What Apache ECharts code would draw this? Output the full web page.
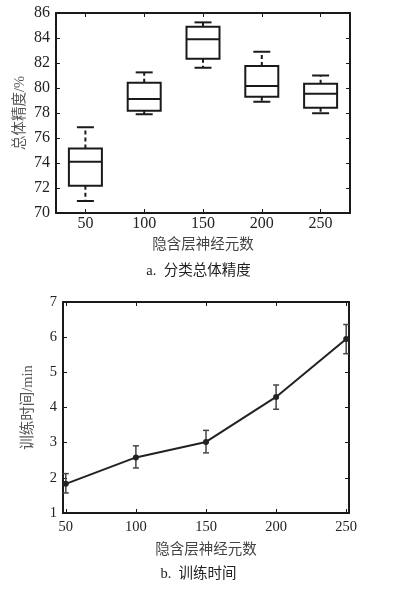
<!DOCTYPE html>
<html>
<head>
<meta charset="utf-8">
<script src="https://cdn.jsdelivr.net/npm/echarts@6/dist/echarts.min.js"></script>
<style>
  html, body { margin: 0; padding: 0; background: #fff; }
  #chart { width: 397px; height: 589px; }
</style>
</head>
<body>
<div id="chart"></div>
<script>
// a. 分类总体精度 (boxplot)
const neuronCats = ['50', '100', '150', '200', '250']
const accMin = [70.96, 77.9, 81.62, 78.9, 77.98]
const accQ1 = [72.18, 78.19, 82.35, 79.3, 78.42]
const accMedian = [74.1, 79.12, 83.9, 80.16, 79.55]
const accQ3 = [75.17, 80.43, 84.9, 81.76, 80.35]
const accMax = [76.86, 81.25, 85.25, 82.9, 81.0]

// b. 训练时间 (line + error bars)
const neurons = [50, 100, 150, 200, 250]
const timeMean = [1.83, 2.58, 3.02, 4.3, 5.95]
const timeLow = [1.57, 2.28, 2.71, 3.95, 5.53]
const timeHigh = [2.12, 2.91, 3.35, 4.64, 6.36]
const timeTicks = [50, 100, 150, 200, 250]

const serif = 'Liberation Serif, DejaVu Serif, serif'
const cjk = 'Liberation Serif, Noto Sans CJK SC, sans-serif'
const ink = '#1a1a1a'

const chart = echarts.init(document.getElementById('chart'))

const boxData = neuronCats.map((c, i) => [i, accMin[i], accQ1[i], accMedian[i], accQ3[i], accMax[i]])
const errData = neurons.map((x, i) => [x, timeLow[i], timeHigh[i]])

const renderBox = (params, api) => {
  const i = api.value(0)
  const pMin = api.coord([i, api.value(1)])
  const pQ1 = api.coord([i, api.value(2)])
  const pMed = api.coord([i, api.value(3)])
  const pQ3 = api.coord([i, api.value(4)])
  const pMax = api.coord([i, api.value(5)])
  const cx = pMed[0]
  const halfBox = 16.5
  const halfCap = 8.5
  const stroke = { stroke: ink, lineWidth: 2, fill: null }
  const dashed = { stroke: ink, lineWidth: 2, lineDash: [4, 3] }
  return {
    type: 'group',
    children: [
      { type: 'line', shape: { x1: cx, y1: pQ3[1], x2: cx, y2: pMax[1] }, style: dashed },
      { type: 'line', shape: { x1: cx, y1: pQ1[1], x2: cx, y2: pMin[1] }, style: dashed },
      { type: 'line', shape: { x1: cx - halfCap, y1: pMax[1], x2: cx + halfCap, y2: pMax[1] }, style: stroke },
      { type: 'line', shape: { x1: cx - halfCap, y1: pMin[1], x2: cx + halfCap, y2: pMin[1] }, style: stroke },
      { type: 'rect', shape: { x: cx - halfBox, y: pQ3[1], width: halfBox * 2, height: pQ1[1] - pQ3[1] }, style: { stroke: ink, lineWidth: 2, fill: '#fff' } },
      { type: 'line', shape: { x1: cx - halfBox, y1: pMed[1], x2: cx + halfBox, y2: pMed[1] }, style: stroke }
    ]
  }
}

const renderErr = (params, api) => {
  const lo = api.coord([api.value(0), api.value(1)])
  const hi = api.coord([api.value(0), api.value(2)])
  const st = { stroke: '#444', lineWidth: 1.5 }
  return {
    type: 'group',
    children: [
      { type: 'line', shape: { x1: lo[0], y1: lo[1], x2: hi[0], y2: hi[1] }, style: st },
      { type: 'line', shape: { x1: lo[0] - 3, y1: lo[1], x2: lo[0] + 3, y2: lo[1] }, style: st },
      { type: 'line', shape: { x1: hi[0] - 3, y1: hi[1], x2: hi[0] + 3, y2: hi[1] }, style: st }
    ]
  }
}

const boxLine = { show: true, onZero: false, lineStyle: { color: ink, width: 2 } }
const tickIn = { show: true, inside: true, length: 4, lineStyle: { color: ink, width: 1 } }

const option = {
  animation: false,
  backgroundColor: '#fff',
  grid: [
    { left: 56, top: 13, width: 294, height: 200 },
    { left: 63, top: 302, width: 286, height: 211 }
  ],
  graphic: [
    { type: 'text', left: 'center', top: 264, style: { text: 'a.  分类总体精度', font: '14.5px ' + cjk, fill: '#222' } },
    { type: 'text', left: 'center', top: 567, style: { text: 'b.  训练时间', font: '14.5px ' + cjk, fill: '#222' } }
  ],
  xAxis: [
    {
      type: 'category', gridIndex: 0, data: neuronCats, boundaryGap: true,
      axisLine: boxLine, axisTick: { ...tickIn, alignWithLabel: true },
      axisLabel: { fontFamily: serif, fontSize: 16, color: '#222', margin: 3 },
      name: '隐含层神经元数', nameLocation: 'middle', nameGap: 25, nameMoveOverlap: false,
      nameTextStyle: { fontFamily: cjk, fontSize: 14.5, color: '#444' }
    },
    {
      type: 'category', gridIndex: 0, data: neuronCats, boundaryGap: true, position: 'top',
      axisLine: boxLine, axisTick: { ...tickIn, alignWithLabel: true }, axisLabel: { show: false }
    },
    {
      type: 'value', gridIndex: 1, min: 48, max: 252,
      axisLine: boxLine, splitLine: { show: false },
      axisTick: { ...tickIn, customValues: timeTicks },
      axisLabel: { customValues: timeTicks, fontFamily: serif, fontSize: 14.5, color: '#222', margin: 7 },
      name: '隐含层神经元数', nameLocation: 'middle', nameGap: 30, nameMoveOverlap: false,
      nameTextStyle: { fontFamily: cjk, fontSize: 14.5, color: '#444' }
    },
    {
      type: 'value', gridIndex: 1, min: 48, max: 252, position: 'top',
      axisLine: boxLine, splitLine: { show: false },
      axisTick: { ...tickIn, customValues: timeTicks }, axisLabel: { show: false }
    }
  ],
  yAxis: [
    {
      type: 'value', gridIndex: 0, min: 70, max: 86, interval: 2,
      axisLine: boxLine, splitLine: { show: false }, axisTick: tickIn,
      axisLabel: { fontFamily: serif, fontSize: 16, color: '#222', margin: 6 },
      name: '总体精度/%', nameLocation: 'middle', nameGap: 29, nameMoveOverlap: false,
      nameTextStyle: { fontFamily: cjk, fontSize: 14.5, color: '#555' }
    },
    {
      type: 'value', gridIndex: 0, min: 70, max: 86, interval: 2, position: 'right',
      axisLine: boxLine, splitLine: { show: false }, axisTick: tickIn, axisLabel: { show: false }
    },
    {
      type: 'value', gridIndex: 1, min: 1, max: 7, interval: 1,
      axisLine: boxLine, splitLine: { show: false }, axisTick: tickIn,
      axisLabel: { fontFamily: serif, fontSize: 14.5, color: '#222', margin: 6 },
      name: '训练时间/min', nameLocation: 'middle', nameGap: 28, nameMoveOverlap: false,
      nameTextStyle: { fontFamily: cjk, fontSize: 14.5, color: '#555' }
    },
    {
      type: 'value', gridIndex: 1, min: 1, max: 7, interval: 1, position: 'right',
      axisLine: boxLine, splitLine: { show: false }, axisTick: tickIn, axisLabel: { show: false }
    }
  ],
  series: [
    {
      type: 'custom', xAxisIndex: 0, yAxisIndex: 0,
      data: boxData, encode: { x: 0, y: [1, 2, 3, 4, 5] },
      renderItem: renderBox, clip: false
    },
    {
      type: 'custom', xAxisIndex: 2, yAxisIndex: 2,
      data: errData, encode: { x: 0, y: [1, 2] },
      renderItem: renderErr, clip: false, z: 1
    },
    {
      type: 'line', xAxisIndex: 2, yAxisIndex: 2,
      data: neurons.map((x, i) => [x, timeMean[i]]),
      symbol: 'circle', symbolSize: 6,
      lineStyle: { color: '#222', width: 2 },
      itemStyle: { color: '#222' }, z: 3
    }
  ]
}

chart.setOption(option)
</script>
</body>
</html>
